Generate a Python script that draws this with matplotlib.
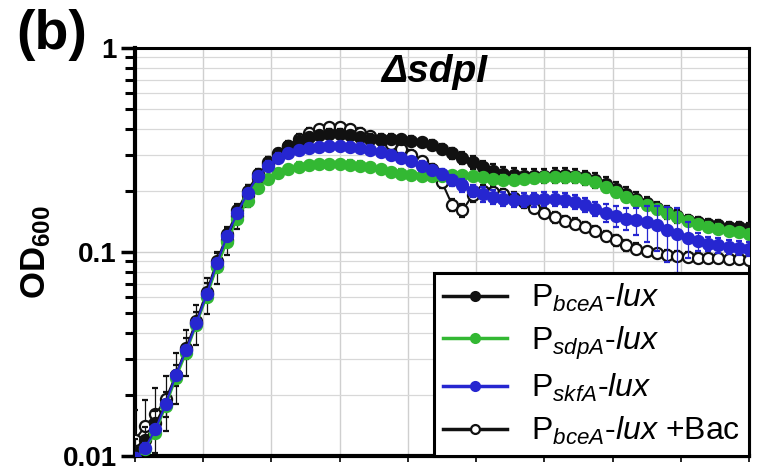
import numpy as np
import matplotlib
matplotlib.use("Agg")
import matplotlib.pyplot as plt
from matplotlib.ticker import LogLocator, NullFormatter, FixedLocator

plt.rcParams['font.family'] = ['Liberation Sans', 'DejaVu Sans']
plt.rcParams['mathtext.fontset'] = 'custom'
plt.rcParams['mathtext.rm'] = 'Liberation Sans'
plt.rcParams['mathtext.it'] = 'Liberation Sans:italic'
plt.rcParams['mathtext.bf'] = 'Liberation Sans:bold'

# time axis (arbitrary units, one grid cell per unit)
time = np.round(np.arange(61) * 0.15, 2)

od_bcea = [0.0105, 0.012, 0.0145, 0.018, 0.025, 0.034, 0.046, 0.064, 0.09, 0.122,
           0.16, 0.2, 0.24, 0.275, 0.305, 0.33, 0.35, 0.365, 0.375, 0.38,
           0.38, 0.375, 0.365, 0.36, 0.36, 0.36, 0.358, 0.352, 0.345, 0.335,
           0.32, 0.305, 0.29, 0.275, 0.26, 0.25, 0.242, 0.238, 0.236, 0.236,
           0.237, 0.238, 0.238, 0.236, 0.232, 0.225, 0.215, 0.204, 0.193, 0.183,
           0.174, 0.165, 0.157, 0.15, 0.144, 0.14, 0.137, 0.135, 0.133, 0.132, 0.131]

od_sdpa = [0.0095, 0.0108, 0.013, 0.0175, 0.024, 0.032, 0.044, 0.06, 0.084, 0.112,
           0.145, 0.178, 0.205, 0.228, 0.243, 0.255, 0.262, 0.267, 0.27, 0.27,
           0.27, 0.268, 0.265, 0.26, 0.254, 0.247, 0.242, 0.238, 0.236, 0.236,
           0.237, 0.238, 0.238, 0.236, 0.232, 0.228, 0.226, 0.226, 0.228, 0.23,
           0.232, 0.233, 0.233, 0.232, 0.228, 0.22, 0.208, 0.196, 0.186, 0.177,
           0.17, 0.162, 0.155, 0.148, 0.142, 0.137, 0.133, 0.13, 0.127, 0.125, 0.122]

od_skfa = [0.0098, 0.011, 0.0135, 0.018, 0.025, 0.033, 0.045, 0.062, 0.088, 0.12,
           0.155, 0.195, 0.235, 0.265, 0.29, 0.305, 0.315, 0.322, 0.327, 0.33,
           0.33, 0.328, 0.325, 0.318, 0.31, 0.3, 0.29, 0.278, 0.265, 0.252,
           0.24, 0.225, 0.212, 0.2, 0.192, 0.186, 0.182, 0.18, 0.18, 0.181,
           0.182, 0.182, 0.18, 0.176, 0.17, 0.163, 0.156, 0.15, 0.146, 0.143,
           0.14, 0.135, 0.128, 0.122, 0.117, 0.113, 0.11, 0.108, 0.106, 0.105, 0.104]

od_bac = [0.012, 0.014, 0.016, 0.019, 0.025, 0.033, 0.045, 0.062, 0.085, 0.115,
          0.15, 0.19, 0.23, 0.27, 0.3, 0.33, 0.36, 0.385, 0.4, 0.41,
          0.41, 0.4, 0.385, 0.37, 0.355, 0.34, 0.32, 0.3, 0.28, 0.255,
          0.22, 0.17, 0.16, 0.19, 0.2, 0.198, 0.192, 0.185, 0.175, 0.165,
          0.156, 0.148, 0.142, 0.138, 0.133, 0.127, 0.12, 0.114, 0.108, 0.104,
          0.101, 0.099, 0.097, 0.096, 0.095, 0.094, 0.093, 0.093, 0.092, 0.092, 0.091]

# relative error (fraction of value)
rel_err_bcea = [0.15, 0.15, 0.15, 0.14, 0.12, 0.12, 0.1, 0.1, 0.1, 0.08,
                0.08, 0.07, 0.06, 0.06, 0.05, 0.05, 0.05, 0.05, 0.05, 0.05,
                0.05, 0.05, 0.05, 0.05, 0.05, 0.05, 0.05, 0.05, 0.05, 0.06,
                0.06, 0.06, 0.07, 0.07, 0.08, 0.08, 0.08, 0.08, 0.08, 0.08,
                0.08, 0.08, 0.08, 0.08, 0.08, 0.08, 0.08, 0.08, 0.08, 0.08,
                0.07, 0.07, 0.07, 0.07, 0.06, 0.06, 0.06, 0.06, 0.06, 0.06, 0.06]
rel_err_bac = [0.4, 0.35, 0.35, 0.3, 0.28, 0.25, 0.22, 0.2, 0.18, 0.16,
               0.14, 0.12, 0.1, 0.08, 0.07, 0.06, 0.05, 0.05, 0.05, 0.05,
               0.05, 0.05, 0.05, 0.05, 0.05, 0.05, 0.05, 0.05, 0.05, 0.06,
               0.06, 0.07, 0.07, 0.07, 0.06, 0.06, 0.06, 0.06, 0.06, 0.06,
               0.06, 0.06, 0.06, 0.06, 0.06, 0.06, 0.06, 0.06, 0.06, 0.06,
               0.05, 0.05, 0.05, 0.05, 0.05, 0.05, 0.05, 0.05, 0.05, 0.05, 0.05]
rel_err_skfa = [0.05, 0.05, 0.05, 0.05, 0.05, 0.05, 0.05, 0.05, 0.05, 0.05,
                0.05, 0.05, 0.05, 0.05, 0.05, 0.05, 0.05, 0.05, 0.05, 0.05,
                0.05, 0.05, 0.05, 0.05, 0.05, 0.05, 0.05, 0.05, 0.05, 0.05,
                0.06, 0.06, 0.07, 0.07, 0.08, 0.08, 0.08, 0.08, 0.08, 0.08,
                0.08, 0.08, 0.08, 0.08, 0.08, 0.08, 0.1, 0.12, 0.12, 0.15,
                0.2, 0.25, 0.3, 0.35, 0.2, 0.1, 0.08, 0.08, 0.08, 0.08, 0.08]
rel_err_sdpa = [0.05] * 61

labels = [r'P$_{\it bceA}$-$\it lux$', r'P$_{\it sdpA}$-$\it lux$',
          r'P$_{\it skfA}$-$\it lux$', r'P$_{\it bceA}$-$\it lux$ +Bac']

ytick_vals = [0.01, 0.1, 1]
ytick_labels = ['0.01', '0.1', '1']

fig = plt.figure(figsize=(7.61, 4.76), dpi=100)
ax = fig.add_axes([0.1774, 0.042, 0.8068, 0.857])

ax.set_yscale('log')
ax.set_ylim(0.01, 1)
ax.set_xlim(0, 9)

black = '#111111'
green = '#33b833'
blue = '#2626d0'

def plot_series(y, rel, color, mfc, zorder):
    y = np.array(y)
    err = np.array(rel) * y
    return ax.errorbar(time, y, yerr=err, color=color, ecolor=color, elinewidth=0.9,
                       capsize=2.2, capthick=0.9, marker='o', ms=8, mfc=mfc,
                       mec=color, mew=1.6, lw=1.5, zorder=zorder)

h_bac = plot_series(od_bac, rel_err_bac, black, 'white', 3)
h_bcea = plot_series(od_bcea, rel_err_bcea, black, black, 4)
h_sdpa = plot_series(od_sdpa, rel_err_sdpa, green, green, 5)
h_skfa = plot_series(od_skfa, rel_err_skfa, blue, blue, 6)

# grid
ax.xaxis.set_major_locator(FixedLocator(np.arange(0, 10)))
ax.yaxis.set_major_locator(FixedLocator(ytick_vals))
ax.yaxis.set_minor_locator(LogLocator(base=10, subs=np.arange(2, 10)))
ax.yaxis.set_minor_formatter(NullFormatter())
ax.set_yticklabels(ytick_labels)
ax.grid(True, which='major', axis='both', color='#cfcfcf', lw=1.0, zorder=0)
ax.grid(True, which='minor', axis='y', color='#d8d8d8', lw=0.9, zorder=0)
ax.set_axisbelow(True)

for s in ax.spines.values():
    s.set_linewidth(2.2)
    s.set_color('black')
ax.spines['left'].set_linewidth(3)
ax.spines['bottom'].set_linewidth(3)

ax.tick_params(axis='y', which='major', direction='out', length=10, width=2.5,
               labelsize=20, pad=3)
ax.tick_params(axis='y', which='minor', direction='out', length=7, width=2.2)
ax.tick_params(axis='x', which='major', direction='out', length=4, width=1.2,
               labelbottom=False)
for t in ax.get_yticklabels():
    t.set_fontweight('bold')

fig.text(36 / 761, 1 - 252 / 476, r'OD$_{\mathbf{600}}$', fontsize=25,
         fontweight='bold', rotation=90, ha='center', va='center')

fig.text(52 / 761, 1 - 35 / 476, '(b)', fontsize=40, fontweight='bold',
         ha='center', va='center')
ax.text(0.487, 0.941, 'ΔsdpI', transform=ax.transAxes, fontsize=28,
        fontweight='bold', style='italic', ha='center', va='center', zorder=10)

leg = ax.legend([h_bcea[0], h_sdpa[0], h_skfa[0], h_bac[0]], labels, loc='lower right',
                fontsize=23, frameon=True, fancybox=False, markerscale=0.8,
                edgecolor='black', framealpha=1, borderpad=0.28, labelspacing=0.33,
                handlelength=2.0, handletextpad=0.75, borderaxespad=0.0)
leg.get_frame().set_linewidth(2.2)
leg.set_zorder(20)
for ln in leg.get_lines():
    ln.set_linewidth(2.5)

fig.savefig('out.png', dpi=100)
